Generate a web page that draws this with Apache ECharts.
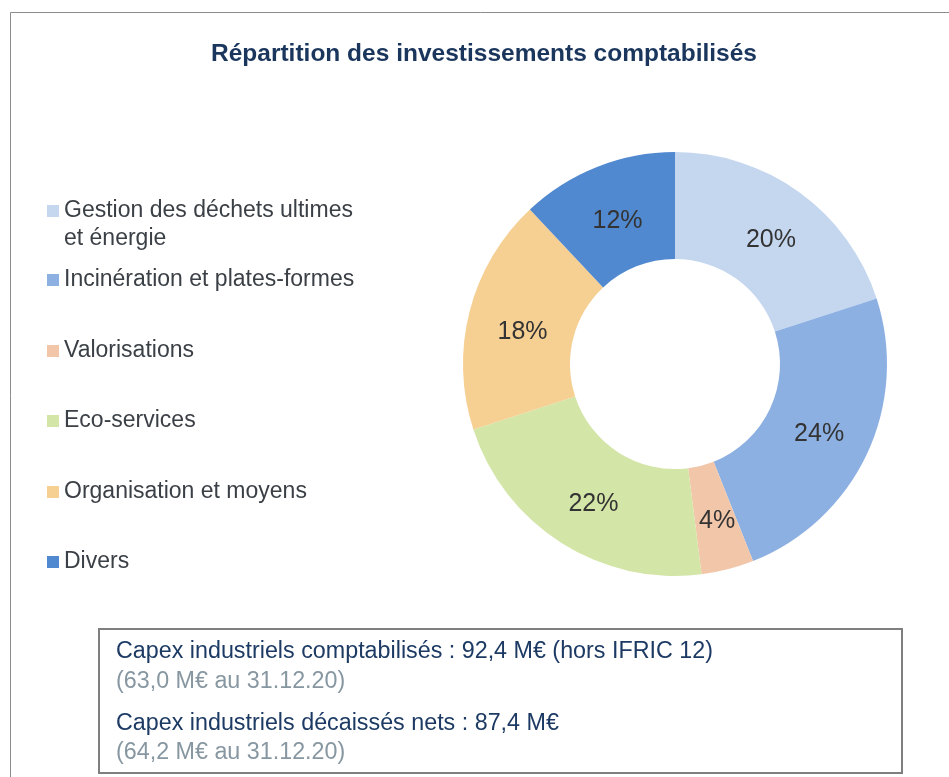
<!DOCTYPE html>
<html>
<head>
<meta charset="utf-8">
<script src="https://cdn.jsdelivr.net/npm/echarts@6/dist/echarts.min.js"></script>
<style>
  html, body { margin: 0; padding: 0; background: #fff; }
  #chart { width: 949px; height: 777px; }
</style>
</head>
<body>
<div id="chart"></div>
<script>
const categories = [
    'Gestion des déchets ultimes\net énergie',
    'Incinération et plates-formes',
    'Valorisations',
    'Eco-services',
    'Organisation et moyens',
    'Divers',
];
const shares = [20, 24, 4, 22, 18, 12];
const colors = ['#c5d7ef', '#8db0e2', '#f2c6a8', '#d4e5a8', '#f6cf92', '#5189d0'];
// legend row centres (y of first text line)
const legendRows = [211, 280, 351, 421, 492, 562];
// small label nudges so the percentages sit like the original
const labelNudge = [[1, 7], [-2, 1], [2, 1], [5, 4], [4, 8], [2, 7]];

const noteLines = [
    'Capex industriels comptabilisés : 92,4 M€ (hors IFRIC 12)',
    '(63,0 M€ au 31.12.20)',
    'Capex industriels décaissés nets : 87,4 M€',
    '(64,2 M€ au 31.12.20)',
];
const noteColors = ['#1c3a63', '#8797a1', '#1c3a63', '#8797a1'];
const noteRows = [652, 682, 724, 753];

const FONT = 'Liberation Sans, Arial, sans-serif';
const LH = 28;

let chart = echarts.init(document.getElementById('chart'), null, {renderer: 'canvas'});

// one legend per row so rows sit where the picture has them;
// the two-line name gets a blank line on top so its icon lines up with line 1
let legends = categories.map((name, i) => {
    let twoLines = name.indexOf('\n') >= 0;
    return {
        data: [name],
        orient: 'vertical',
        left: 47,
        top: legendRows[i] - (twoLines ? LH * 1.5 : LH / 2),
        padding: 0,
        icon: 'rect',
        itemWidth: 12,
        itemHeight: 12,
        itemGap: 0,
        selectedMode: false,
        formatter: twoLines ? (n) => ' \n' + n : '{name}',
        textStyle: {
            fontFamily: FONT,
            fontSize: 23,
            color: '#3b4046',
            lineHeight: LH,
        },
    };
});

let graphics = [
    {
        type: 'rect',
        shape: {x: 10.5, y: 12.5, width: 1000, height: 1000},
        style: {fill: null, stroke: '#8c8c8c', lineWidth: 1},
        silent: true,
    },
    {
        type: 'rect',
        shape: {x: 99, y: 629, width: 803, height: 144},
        style: {fill: '#fff', stroke: '#7f7f7f', lineWidth: 2},
        silent: true,
    },
];
noteLines.forEach((t, i) => {
    graphics.push({
        type: 'text',
        x: 116,
        y: noteRows[i],
        style: {
            text: t,
            fill: noteColors[i],
            font: '23.3px ' + FONT,
            verticalAlign: 'middle',
        },
    });
});

let option = {
    backgroundColor: '#fff',
    animation: false,
    color: colors,
    title: {
        text: 'Répartition des investissements comptabilisés',
        left: 484,
        textAlign: 'center',
        top: 42,
        padding: 0,
        textStyle: {
            fontFamily: FONT,
            fontSize: 24.5,
            fontWeight: 'bold',
            color: '#1b365d',
        },
    },
    legend: legends,
    graphic: graphics,
    series: [
        {
            type: 'pie',
            center: [675, 364],
            radius: [105, 212],
            startAngle: 90,
            clockwise: true,
            avoidLabelOverlap: false,
            label: {
                show: true,
                position: 'inside',
                formatter: '{c}%',
                fontFamily: FONT,
                fontSize: 25,
                color: '#333',
            },
            labelLine: {show: false},
            itemStyle: {borderWidth: 0},
            emphasis: {disabled: true},
            data: categories.map((name, i) => ({
                name: name,
                value: shares[i],
                label: {offset: labelNudge[i]},
            })),
        },
    ],
};

chart.setOption(option);
</script>
</body>
</html>
